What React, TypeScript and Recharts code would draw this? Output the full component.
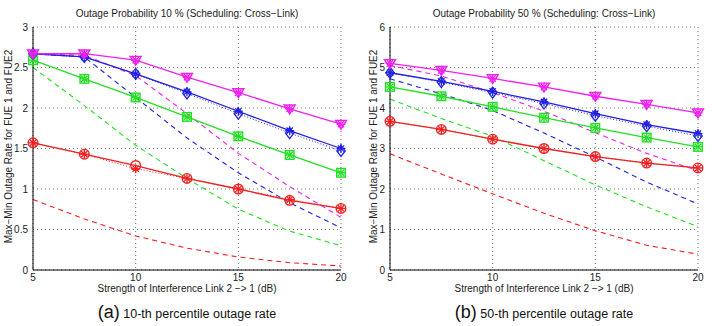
import React from "react";
import { LineChart, Line, XAxis, YAxis, CartesianGrid } from "recharts";

const dB = [5, 7.5, 10, 12.5, 15, 17.5, 20];

// (a) 10-th percentile
const magSolidA = [2.67, 2.67, 2.59, 2.38, 2.19, 1.99, 1.8];
const bluSolidA = [2.67, 2.63, 2.42, 2.2, 1.96, 1.72, 1.5];
const bluDotA = [2.67, 2.63, 2.42, 2.18, 1.93, 1.69, 1.47];
const grnSolidA = [2.59, 2.36, 2.13, 1.89, 1.65, 1.42, 1.2];
const redSolidA = [1.57, 1.43, 1.29, 1.13, 1.0, 0.86, 0.76];
const redDotA = [1.57, 1.43, 1.25, 1.13, 1.0, 0.87, 0.76];
const magDashA = [2.67, 2.65, 2.4, 1.93, 1.44, 1.03, 0.65];
const bluDashA = [2.67, 2.63, 2.13, 1.63, 1.2, 0.83, 0.52];
const grnDashA = [2.5, 2.03, 1.54, 1.13, 0.75, 0.48, 0.3];
const redDashA = [0.87, 0.63, 0.42, 0.27, 0.16, 0.09, 0.05];

// (b) 50-th percentile
const magSolidB = [5.1, 4.93, 4.73, 4.52, 4.29, 4.09, 3.88];
const bluSolidB = [4.87, 4.66, 4.41, 4.15, 3.86, 3.59, 3.37];
const bluDotB = [4.87, 4.64, 4.38, 4.11, 3.81, 3.55, 3.31];
const grnSolidB = [4.52, 4.29, 4.03, 3.76, 3.51, 3.27, 3.04];
const redSolidB = [3.67, 3.47, 3.23, 3.0, 2.8, 2.64, 2.52];
const redDotB = [3.67, 3.47, 3.23, 3.0, 2.8, 2.64, 2.52];
const magDashB = [5.05, 4.79, 4.38, 3.92, 3.39, 2.88, 2.45];
const bluDashB = [4.72, 4.35, 3.94, 3.38, 2.79, 2.17, 1.63];
const grnDashB = [4.22, 3.74, 3.3, 2.7, 2.1, 1.56, 1.07];
const redDashB = [2.87, 2.37, 1.88, 1.4, 0.97, 0.61, 0.39];

const yTicksA = [0, 0.5, 1, 1.5, 2, 2.5, 3];
const yTicksB = [0, 1, 2, 3, 4, 5, 6];
const xTicks = [5, 10, 15, 20];

const MAG = "#f020f0";
const BLU = "#2020e0";
const GRN = "#22e022";
const RED = "#f02020";
const FONT = "'Liberation Sans', Arial, sans-serif";

function buildRows(s: Record<string, number[]>) {
  return dB.map((x, i) => {
    const row: Record<string, number> = { x };
    Object.keys(s).forEach((k) => (row[k] = s[k][i]));
    return row;
  });
}

function Asterisk({ cx, cy, c }: { cx: number; cy: number; c: string }) {
  const r = 4.5;
  const d = r * 0.7;
  return (
    <g stroke={c} strokeWidth={1.3}>
      <line x1={cx - r} y1={cy} x2={cx + r} y2={cy} />
      <line x1={cx} y1={cy - r} x2={cx} y2={cy + r} />
      <line x1={cx - d} y1={cy - d} x2={cx + d} y2={cy + d} />
      <line x1={cx - d} y1={cy + d} x2={cx + d} y2={cy - d} />
    </g>
  );
}

function makeDot(kind: string, c: string, star = true) {
  return (p: any) => {
    const { cx, cy } = p;
    const k = `${kind}-${p.index}`;
    if (cx == null || cy == null) return <g key={k} />;
    let shape: React.ReactNode = null;
    if (kind === "circle") shape = <circle cx={cx} cy={cy} r={4.8} fill="none" stroke={c} strokeWidth={1.4} />;
    if (kind === "square") shape = <rect x={cx - 4.3} y={cy - 4.3} width={8.6} height={8.6} fill="none" stroke={c} strokeWidth={1.4} />;
    if (kind === "diamond")
      shape = <polygon points={`${cx},${cy - 5.5} ${cx + 4.2},${cy} ${cx},${cy + 5.5} ${cx - 4.2},${cy}`} fill="none" stroke={c} strokeWidth={1.3} />;
    if (kind === "tri")
      shape = <polygon points={`${cx - 5.5},${cy - 3.8} ${cx + 5.5},${cy - 3.8} ${cx},${cy + 5}`} fill="none" stroke={c} strokeWidth={1.4} />;
    return (
      <g key={k}>
        {shape}
        {star && <Asterisk cx={cx} cy={cy} c={c} />}
      </g>
    );
  };
}

type PanelProps = {
  left: number;
  rows: Record<string, number>[];
  yTicks: number[];
  yMax: number;
  title: string;
  letter: string;
  caption: string;
  marginLeft: number;
  yLabelX: number;
};

function Panel({ left, rows, yTicks, yMax, title, letter, caption, marginLeft, yLabelX }: PanelProps) {
  const W = 356;
  const plotL = marginLeft + 33;
  const plotR = W - (left === 0 ? 15 : 14);
  const mid = (plotL + plotR) / 2;
  return (
    <div style={{ position: "absolute", left, top: 0, width: W, height: 326, fontFamily: FONT }}>
      <div style={{ position: "absolute", left: 0, width: mid * 2, top: 8, textAlign: "center", fontSize: 10, color: "#222" }}>
        {title}
      </div>
      <div
        style={{
          position: "absolute",
          left: yLabelX - 120,
          top: 148 - 7,
          width: 240,
          textAlign: "center",
          fontSize: 10,
          color: "#222",
          transform: "rotate(-90deg)",
          whiteSpace: "nowrap",
        }}
      >
        Max−Min Outage Rate for FUE 1 and FUE2
      </div>
      <LineChart
        width={W}
        height={300}
        data={rows}
        margin={{ top: 27, right: W - plotR, left: marginLeft, bottom: 0 }}
        style={{ position: "absolute", left: 0, top: 0 }}
      >
        <CartesianGrid strokeDasharray="1 3" stroke="#777" />
        <XAxis
          dataKey="x"
          type="number"
          domain={[5, 20]}
          ticks={xTicks}
          height={30}
          tickLine={false}
          tickSize={3}
          tickMargin={1}
          axisLine={{ stroke: "#000", strokeWidth: 1 }}
          tick={{ fill: "#222", fontSize: 10, fontFamily: FONT }}
        />
        <YAxis
          type="number"
          domain={[0, yMax]}
          ticks={yTicks}
          width={33}
          tickLine={false}
          tickSize={3}
          tickMargin={2}
          axisLine={{ stroke: "#000", strokeWidth: 1 }}
          tick={{ fill: "#222", fontSize: 10, fontFamily: FONT }}
        />
        <Line dataKey="redDash" stroke={RED} strokeWidth={1.1} strokeDasharray="5 4" dot={false} isAnimationActive={false} />
        <Line dataKey="grnDash" stroke={GRN} strokeWidth={1.1} strokeDasharray="5 4" dot={false} isAnimationActive={false} />
        <Line dataKey="bluDash" stroke={BLU} strokeWidth={1.1} strokeDasharray="5 4" dot={false} isAnimationActive={false} />
        <Line dataKey="magDash" stroke={MAG} strokeWidth={1.1} strokeDasharray="5 4" dot={false} isAnimationActive={false} />
        <Line dataKey="redDot" stroke={RED} strokeWidth={1} strokeDasharray="1 2" dot={makeDot("none", RED)} isAnimationActive={false} />
        <Line dataKey="redSolid" stroke={RED} strokeWidth={1.3} dot={makeDot("circle", RED, false)} isAnimationActive={false} />
        <Line dataKey="grnSolid" stroke={GRN} strokeWidth={1.3} dot={makeDot("square", GRN)} isAnimationActive={false} />
        <Line dataKey="bluDot" stroke={BLU} strokeWidth={1} strokeDasharray="1 2" dot={makeDot("diamond", BLU, false)} isAnimationActive={false} />
        <Line dataKey="bluSolid" stroke={BLU} strokeWidth={1.3} dot={makeDot("none", BLU)} isAnimationActive={false} />
        <Line dataKey="magSolid" stroke={MAG} strokeWidth={1.3} dot={makeDot("tri", MAG)} isAnimationActive={false} />
      </LineChart>
      <div style={{ position: "absolute", left: 0, width: mid * 2, top: 283, textAlign: "center", fontSize: 10, color: "#222" }}>
        Strength of Interference Link 2 −&gt; 1 (dB)
      </div>
      <div style={{ position: "absolute", left: 0, width: mid * 2, top: 302, textAlign: "center", color: "#111", whiteSpace: "nowrap" }}>
        <span style={{ fontSize: 18 }}>({letter})</span>
        <span style={{ fontSize: 12.5 }}> {caption}</span>
      </div>
    </div>
  );
}

export default function App() {
  const rowsA = buildRows({
    magSolid: magSolidA,
    bluSolid: bluSolidA,
    bluDot: bluDotA,
    grnSolid: grnSolidA,
    redSolid: redSolidA,
    redDot: redDotA,
    magDash: magDashA,
    bluDash: bluDashA,
    grnDash: grnDashA,
    redDash: redDashA,
  });
  const rowsB = buildRows({
    magSolid: magSolidB,
    bluSolid: bluSolidB,
    bluDot: bluDotB,
    grnSolid: grnSolidB,
    redSolid: redSolidB,
    redDot: redDotB,
    magDash: magDashB,
    bluDash: bluDashB,
    grnDash: grnDashB,
    redDash: redDashB,
  });
  return (
    <div style={{ position: "absolute", left: 0, top: 0, width: 712, height: 326, background: "#fff", overflow: "hidden" }}>
      <Panel
        left={0}
        rows={rowsA}
        yTicks={yTicksA}
        yMax={3}
        title="Outage Probability 10 % (Scheduling: Cross−Link)"
        letter="a"
        caption="10-th percentile outage rate"
        marginLeft={0}
        yLabelX={8}
      />
      <Panel
        left={356}
        rows={rowsB}
        yTicks={yTicksB}
        yMax={6}
        title="Outage Probability 50 % (Scheduling: Cross−Link)"
        letter="b"
        caption="50-th percentile outage rate"
        marginLeft={1}
        yLabelX={17}
      />
    </div>
  );
}
